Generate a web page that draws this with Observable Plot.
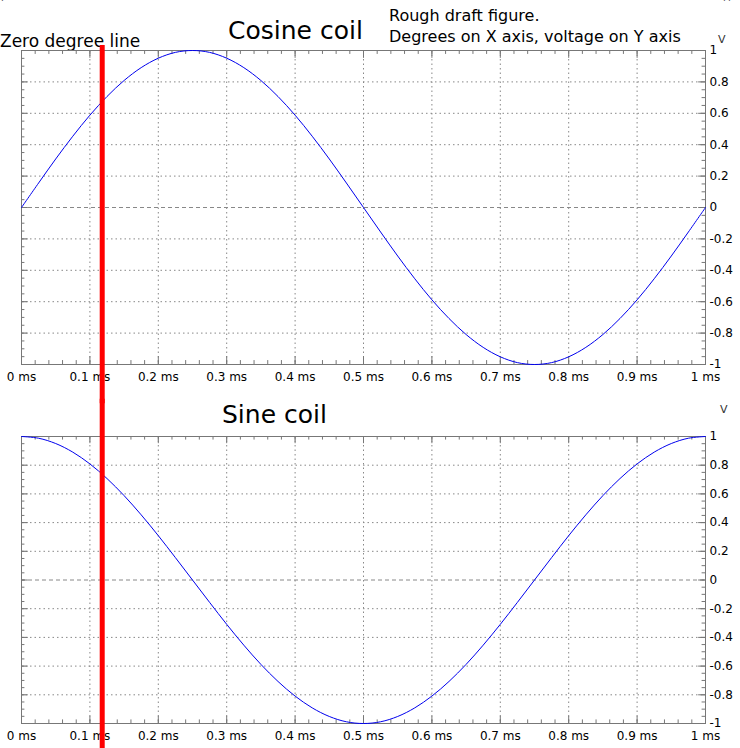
<!DOCTYPE html>
<html><head><meta charset="utf-8">
<script src="https://cdn.jsdelivr.net/npm/d3@7"></script>
<script src="https://cdn.jsdelivr.net/npm/@observablehq/plot@0.6"></script>
<style>
body{margin:0;background:#fff;font-family:"DejaVu Sans",sans-serif}
#wrap{position:relative;width:740px;height:748px;overflow:hidden}
#wrap svg{position:absolute;left:0;background:transparent}
.t{position:absolute;white-space:nowrap;color:#000;line-height:1}
</style></head><body>
<div id="wrap">
<div class="t" style="left:0;top:33px;font-size:17px">Zero degree line</div>
<div class="t" style="left:228px;top:18px;font-size:25px">Cosine coil</div>
<div class="t" style="left:389px;top:8px;font-size:16px">Rough draft figure.</div>
<div class="t" style="left:389px;top:29px;font-size:16px">Degrees on X axis, voltage on Y axis</div>
<div class="t" style="left:718px;top:34px;font-size:11px;color:#333">V</div>
<div class="t" style="left:722px;top:0;font-size:10px;color:#333">``</div>
<div class="t" style="left:0;top:0;font-size:10px;color:#333">`</div>
<div class="t" style="left:222px;top:402px;font-size:25px">Sine coil</div>
<div class="t" style="left:720px;top:404px;font-size:11px;color:#333">V</div>
</div>
<script>
// time in ms, sampled every 0.025 ms
const times = [0,0.025,0.05,0.075,0.1,0.125,0.15,0.175,0.2,0.225,0.25,0.275,0.3,0.325,0.35,0.375,0.4,0.425,0.45,0.475,0.5,0.525,0.55,0.575,0.6,0.625,0.65,0.675,0.7,0.725,0.75,0.775,0.8,0.825,0.85,0.875,0.9,0.925,0.95,0.975,1];
const cosineCoil = [0,0.156,0.309,0.454,0.588,0.707,0.809,0.891,0.951,0.988,1,0.988,0.951,0.891,0.809,0.707,0.588,0.454,0.309,0.156,0,-0.156,-0.309,-0.454,-0.588,-0.707,-0.809,-0.891,-0.951,-0.988,-1,-0.988,-0.951,-0.891,-0.809,-0.707,-0.588,-0.454,-0.309,-0.156,0];
const sineCoil = [1,0.988,0.951,0.891,0.809,0.707,0.588,0.454,0.309,0.156,0,-0.156,-0.309,-0.454,-0.588,-0.707,-0.809,-0.891,-0.951,-0.988,-1,-0.988,-0.951,-0.891,-0.809,-0.707,-0.588,-0.454,-0.309,-0.156,0,0.156,0.309,0.454,0.588,0.707,0.809,0.891,0.951,0.988,1];
const xTicks = [0,0.1,0.2,0.3,0.4,0.5,0.6,0.7,0.8,0.9,1];
const yTicks = [-1,-0.8,-0.6,-0.4,-0.2,0,0.2,0.4,0.6,0.8,1];
const zeroDegree = 0.118;

const xMinor = d3.range(0, 51).map(i => i / 50);
const yMinor = d3.range(0, 41).map(i => -1 + i / 20);

function coil(values, top, height, mt, mb, redY1, redY2) {
  const data = times.map((t, i) => ({t, v: values[i]}));
  const gray = "#777";
  const svg = Plot.plot({
    width: 740, height,
    marginLeft: 21, marginRight: 35, marginTop: mt, marginBottom: mb,
    style: {fontFamily: "DejaVu Sans", fontSize: "12px", overflow: "visible"},
    x: {domain: [0, 1], ticks: xTicks, tickFormat: d => d + " ms", tickSize: 0, tickPadding: 8, label: null},
    y: {domain: [-1, 1], ticks: yTicks, tickFormat: d => d, label: null, axis: "right", tickSize: 0, tickPadding: 4},
    marks: [
      Plot.ruleX(xTicks.slice(1, -1), {stroke: "#888", strokeDasharray: "1.5,3"}),
      Plot.ruleY(yTicks.filter(d => d !== 0 && Math.abs(d) !== 1), {stroke: "#888", strokeDasharray: "1.5,3"}),
      Plot.ruleY([0], {stroke: "#888", strokeDasharray: "4,3"}),
      Plot.ruleX(xMinor, {y1: -1, y2: -0.975, stroke: gray}),
      Plot.ruleX(xMinor, {y1: 1, y2: 0.975, stroke: gray}),
      Plot.ruleX(xTicks, {y1: -1, y2: -0.95, stroke: gray}),
      Plot.ruleX(xTicks, {y1: 1, y2: 0.95, stroke: gray}),
      Plot.ruleY(yMinor, {x1: 0, x2: 0.005, stroke: gray}),
      Plot.ruleY(yMinor, {x1: 1, x2: 0.995, stroke: gray}),
      Plot.ruleY(yTicks, {x1: 0, x2: 0.01, stroke: gray}),
      Plot.ruleY(yTicks, {x1: 1, x2: 0.99, stroke: gray}),
      Plot.frame({stroke: gray}),
      Plot.line(data, {x: "t", y: "v", stroke: "#0000ee", strokeWidth: 1, curve: "catmull-rom"}),
      Plot.ruleX([zeroDegree], {y1: redY1, y2: redY2, stroke: "#ff0000", strokeWidth: 5})
    ]
  });
  svg.style.top = top + "px";
  document.getElementById("wrap").appendChild(svg);
}

coil(cosineCoil, 0, 400, 50, 36, 1.032, -1.25);
coil(sineCoil, 400, 348, 36, 25, 1.26, -1.2);
</script>
</body></html>
